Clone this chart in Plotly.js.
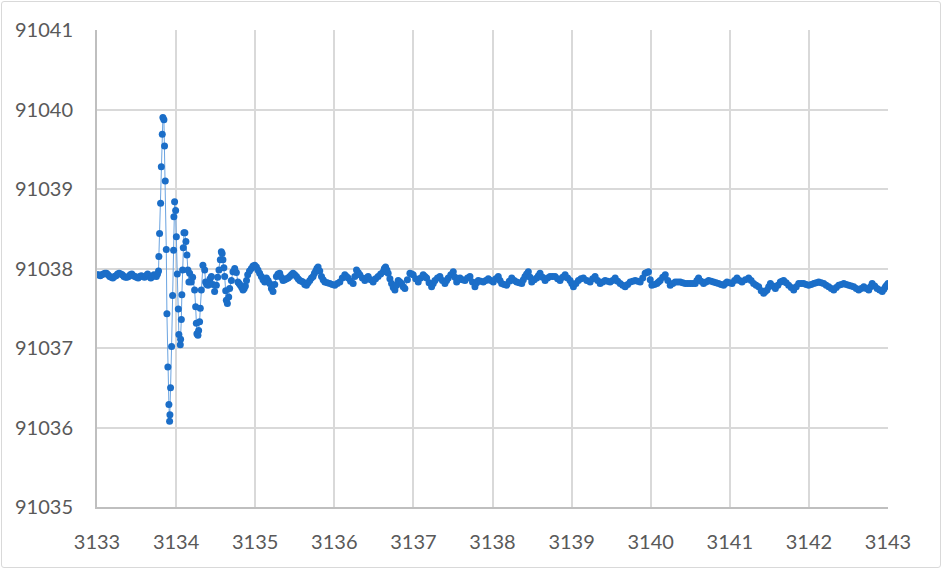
<!DOCTYPE html>
<html>
<head>
<meta charset="utf-8">
<script src="https://cdn.plot.ly/plotly-3.0.1.min.js"></script>
<style>
  html, body { margin: 0; padding: 0; background: #ffffff; }
  #wrap { position: relative; width: 942px; height: 569px; }
  #chart { width: 942px; height: 569px; }
  #frame { position: absolute; left: 1px; top: 1px; width: 938px; height: 565px;
           border: 1px solid #d9d9d9; border-radius: 3px; pointer-events: none; }
</style>
</head>
<body>
<div id="wrap"><div id="chart"></div><div id="frame"></div></div>
<script>
// ---- data ----
const xBase = [3133.00,3133.02,3133.04,3133.06,3133.08,3133.10,3133.12,3133.14,3133.16,3133.18,3133.20,3133.22,3133.24,3133.26,3133.28,3133.30,3133.32,3133.34,3133.36,3133.38,3133.40,3133.42,3133.44,3133.46,3133.48,3133.50,3133.52,3133.54,3133.56,3133.58,3133.60,3133.62,3133.64,3133.66,3133.68,3133.70,3133.72,3133.735,3133.75,3133.765];
const yBase = [91037.92,91037.92,91037.91,91037.92,91037.93,91037.94,91037.94,91037.92,91037.90,91037.89,91037.88,91037.90,91037.91,91037.93,91037.94,91037.93,91037.92,91037.90,91037.89,91037.89,91037.90,91037.92,91037.93,91037.91,91037.90,91037.89,91037.88,91037.90,91037.91,91037.90,91037.89,91037.91,91037.93,91037.90,91037.88,91037.90,91037.92,91037.91,91037.90,91037.93];

const xSpike = [3133.778,3133.782,3133.791,3133.804,3133.813,3133.825,3133.833,3133.846,3133.854,3133.863,3133.876,3133.884,3133.896,3133.909,3133.918,3133.922,3133.930,3133.943,3133.956,3133.968,3133.972,3133.981,3133.994,3134.003,3134.015,3134.028,3134.035,3134.053,3134.057,3134.066,3134.073,3134.082,3134.091,3134.099,3134.111,3134.124,3134.137,3134.149,3134.162];
const ySpike = [91037.97,91038.15,91038.44,91038.82,91039.28,91039.69,91039.90,91039.87,91039.54,91039.10,91038.24,91037.43,91036.76,91036.29,91036.08,91036.16,91036.50,91037.02,91037.66,91038.23,91038.65,91038.84,91038.73,91038.40,91037.93,91037.49,91037.17,91037.04,91037.11,91037.36,91037.67,91037.98,91038.26,91038.45,91038.45,91038.34,91038.17,91037.98,91037.83];

const xSettle = [3134.171,3134.192,3134.209,3134.234,3134.247,3134.256,3134.263,3134.276,3134.285,3134.297,3134.306,3134.319,3134.339,3134.361,3134.373,3134.386,3134.403,3134.418,3134.430,3134.446,3134.466,3134.487,3134.509,3134.525,3134.542,3134.559,3134.572,3134.582,3134.592,3134.604,3134.614,3134.627,3134.635,3134.648,3134.665,3134.677,3134.699,3134.719,3134.741,3134.762,3134.782,3134.797,3134.813,3134.830,3134.846,3134.861,3134.876,3134.890,3134.905,3134.928,3134.952,3134.973,3134.994,3135.015,3135.035,3135.056,3135.078,3135.099,3135.120];
const ySettle = [91037.94,91037.83,91037.89,91037.73,91037.52,91037.31,91037.18,91037.16,91037.22,91037.33,91037.50,91037.73,91038.04,91037.98,91037.83,91037.80,91037.79,91037.82,91037.87,91037.90,91037.80,91037.71,91037.79,91037.89,91037.98,91038.11,91038.21,91038.19,91038.11,91038.01,91037.90,91037.72,91037.60,91037.56,91037.64,91037.75,91037.85,91037.96,91038.00,91037.95,91037.83,91037.81,91037.79,91037.76,91037.73,91037.75,91037.78,91037.85,91037.92,91037.97,91038.00,91038.03,91038.04,91038.02,91037.98,91037.94,91037.90,91037.86,91037.83];

const xTail = [3135.142,3135.163,3135.184,3135.205,3135.225,3135.247,3135.268,3135.289,3135.310,3135.331,3135.352,3135.374,3135.395,3135.416,3135.437,3135.458,3135.478,3135.500,3135.522,3135.543,3135.563,3135.584,3135.605,3135.627,3135.648,3135.669,3135.690,3135.711,3135.732,3135.749,3135.766,3135.780,3135.795,3135.816,3135.838,3135.859,3135.880,3135.911,3135.943,3135.975,3136.006,3136.038,3136.070,3136.101,3136.133,3136.154,3136.175,3136.206,3136.238,3136.260,3136.281,3136.302,3136.323,3136.355,3136.386,3136.407,3136.428,3136.460,3136.491,3136.522,3136.554,3136.586,3136.618,3136.633,3136.648,3136.665,3136.681,3136.703,3136.724,3136.745,3136.766,3136.787,3136.808,3136.830,3136.851,3136.871,3136.892,3136.924,3136.956,3136.977,3136.997,3137.029,3137.061,3137.092,3137.124,3137.146,3137.167,3137.198,3137.230,3137.251,3137.272,3137.304,3137.335,3137.367,3137.399,3137.420,3137.441,3137.473,3137.504,3137.526,3137.547,3137.568,3137.589,3137.621,3137.652,3137.684,3137.715,3137.747,3137.778,3137.799,3137.820,3137.852,3137.884,3137.916,3137.947,3137.979,3138.010,3138.042,3138.073,3138.095,3138.116,3138.148,3138.180,3138.212,3138.243,3138.275,3138.306,3138.338,3138.370,3138.390,3138.411,3138.432,3138.453,3138.475,3138.496,3138.528,3138.559,3138.580,3138.601,3138.633,3138.665,3138.697,3138.728,3138.760,3138.791,3138.823,3138.854,3138.886,3138.918,3138.950,3138.981,3139.002,3139.023,3139.055,3139.086,3139.118,3139.149,3139.192,3139.234,3139.266,3139.297,3139.329,3139.361,3139.393,3139.424,3139.456,3139.487,3139.519,3139.551,3139.583,3139.614,3139.646,3139.677,3139.709,3139.741,3139.773,3139.804,3139.836,3139.867,3139.899,3139.930,3139.951,3139.972,3139.994,3140.015,3140.047,3140.078,3140.099,3140.120,3140.152,3140.184,3140.216,3140.247,3140.279,3140.310,3140.342,3140.373,3140.405,3140.437,3140.469,3140.500,3140.532,3140.563,3140.584,3140.605,3140.637,3140.668,3140.700,3140.732,3140.764,3140.795,3140.827,3140.858,3140.890,3140.922,3140.944,3140.965,3140.997,3141.028,3141.060,3141.091,3141.123,3141.154,3141.196,3141.238,3141.270,3141.301,3141.333,3141.365,3141.397,3141.428,3141.450,3141.471,3141.492,3141.513,3141.545,3141.576,3141.608,3141.639,3141.660,3141.681,3141.713,3141.744,3141.776,3141.808,3141.840,3141.871,3141.903,3141.934,3141.966,3141.997,3142.029,3142.061,3142.093,3142.124,3142.156,3142.187,3142.219,3142.251,3142.283,3142.314,3142.346,3142.377,3142.409,3142.441,3142.473,3142.504,3142.536,3142.567,3142.599,3142.630,3142.662,3142.694,3142.726,3142.757,3142.779,3142.800,3142.832,3142.863,3142.895,3142.927,3142.948,3142.968,3142.984,3143.000];
const yTail = [91037.88,91037.85,91037.81,91037.75,91037.71,91037.80,91037.90,91037.93,91037.94,91037.89,91037.85,91037.86,91037.87,91037.88,91037.90,91037.92,91037.94,91037.92,91037.90,91037.87,91037.85,91037.84,91037.83,91037.80,91037.79,91037.82,91037.85,91037.88,91037.90,91037.94,91037.97,91038.00,91038.02,91037.97,91037.90,91037.86,91037.83,91037.82,91037.81,91037.80,91037.79,91037.81,91037.83,91037.88,91037.92,91037.90,91037.88,91037.84,91037.81,91037.90,91037.98,91037.95,91037.92,91037.88,91037.85,91037.88,91037.90,91037.86,91037.83,91037.87,91037.90,91037.93,91037.96,91038.00,91038.02,91037.98,91037.94,91037.87,91037.81,91037.76,91037.73,91037.79,91037.85,91037.83,91037.81,91037.77,91037.75,91037.86,91037.94,91037.93,91037.92,91037.87,91037.83,91037.88,91037.92,91037.90,91037.88,91037.82,91037.77,91037.81,91037.85,91037.88,91037.90,91037.85,91037.81,91037.85,91037.88,91037.92,91037.96,91037.89,91037.83,91037.86,91037.88,91037.86,91037.85,91037.88,91037.90,91037.83,91037.77,91037.82,91037.85,91037.84,91037.83,91037.85,91037.87,91037.85,91037.83,91037.87,91037.90,91037.85,91037.81,91037.80,91037.79,91037.84,91037.88,91037.85,91037.83,91037.82,91037.81,91037.86,91037.90,91037.93,91037.96,91037.89,91037.83,91037.86,91037.88,91037.91,91037.94,91037.89,91037.85,91037.88,91037.90,91037.90,91037.90,91037.87,91037.85,91037.89,91037.92,91037.88,91037.85,91037.81,91037.77,91037.81,91037.85,91037.87,91037.88,91037.85,91037.83,91037.87,91037.90,91037.85,91037.81,91037.83,91037.85,91037.84,91037.83,91037.85,91037.88,91037.84,91037.81,91037.79,91037.77,91037.80,91037.83,91037.84,91037.85,91037.84,91037.83,91037.88,91037.94,91037.95,91037.96,91037.86,91037.79,91037.80,91037.81,91037.83,91037.85,91037.89,91037.92,91037.85,91037.79,91037.81,91037.83,91037.83,91037.83,91037.82,91037.81,91037.81,91037.81,91037.81,91037.81,91037.85,91037.88,91037.84,91037.81,91037.83,91037.85,91037.84,91037.83,91037.82,91037.81,91037.80,91037.79,91037.81,91037.83,91037.82,91037.81,91037.85,91037.88,91037.85,91037.83,91037.86,91037.88,91037.85,91037.81,91037.79,91037.77,91037.72,91037.69,91037.71,91037.73,91037.77,91037.81,91037.78,91037.75,91037.79,91037.83,91037.84,91037.85,91037.82,91037.79,91037.76,91037.73,91037.77,91037.81,91037.81,91037.81,91037.80,91037.79,91037.80,91037.81,91037.82,91037.83,91037.82,91037.81,91037.79,91037.77,91037.75,91037.73,91037.76,91037.79,91037.80,91037.81,91037.80,91037.79,91037.78,91037.77,91037.75,91037.73,91037.75,91037.77,91037.75,91037.73,91037.77,91037.81,91037.78,91037.75,91037.73,91037.71,91037.74,91037.77,91037.79,91037.81];

const xTicks = [3133,3134,3135,3136,3137,3138,3139,3140,3141,3142,3143];
const yTicks = [91035,91036,91037,91038,91039,91040,91041];

// ---- chart ----
const xs = [].concat(xBase, xSpike, xSettle, xTail);
const ys = [].concat(yBase, ySpike, ySettle, yTail);

const trace = {
  x: xs, y: ys, type: 'scatter', mode: 'lines+markers',
  line: { color: '#6aa3e0', width: 1 },
  marker: { color: '#1b6ec8', size: 7 },
  hoverinfo: 'skip'
};

const tickFont = { family: 'Lato, "Open Sans", sans-serif', size: 20, color: '#595959' };

const layout = {
  width: 942, height: 569,
  margin: { l: 97, r: 54, t: 30, b: 62, pad: 0 },
  paper_bgcolor: '#ffffff', plot_bgcolor: '#ffffff',
  showlegend: false,
  xaxis: {
    range: [3133, 3143], tickvals: xTicks, ticktext: xTicks.map(String),
    showgrid: true, gridcolor: '#d9d9d9', gridwidth: 2,
    showline: true, linecolor: '#bfbfbf', linewidth: 2,
    zeroline: false, ticks: '', ticklabelstandoff: 16,
    tickfont: tickFont
  },
  yaxis: {
    range: [91035, 91041], tickvals: yTicks, ticktext: yTicks.map(String),
    showgrid: true, gridcolor: '#d9d9d9', gridwidth: 2,
    showline: true, linecolor: '#bfbfbf', linewidth: 2,
    zeroline: false, ticks: '', ticklabelstandoff: 18,
    tickfont: tickFont
  }
};

Plotly.newPlot('chart', [trace], layout, { displayModeBar: false, staticPlot: true });
</script>
</body>
</html>
